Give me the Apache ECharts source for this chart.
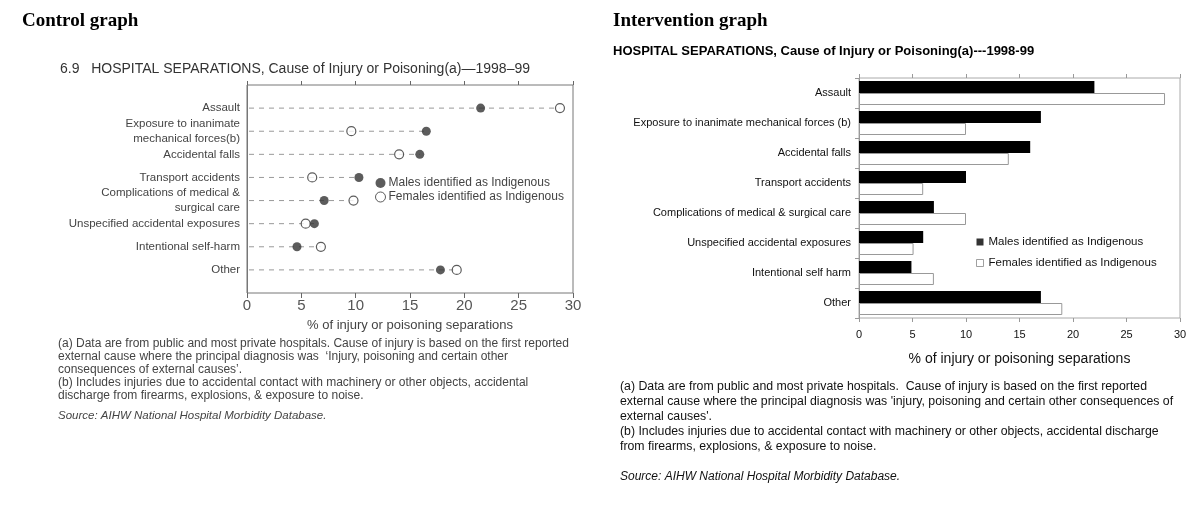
<!DOCTYPE html>
<html>
<head>
<meta charset="utf-8">
<script src="https://cdn.jsdelivr.net/npm/echarts@6/dist/echarts.min.js"></script>
<style>
  html, body { margin: 0; padding: 0; background: #fff; }
  #main { width: 1200px; height: 509px; }
</style>
</head>
<body>
<div id="main"></div>
<script>
// categories, top to bottom
var causesControl = ['Assault', 'Exposure to inanimate\nmechanical forces(b)', 'Accidental falls', 'Transport accidents',
  'Complications of medical &\nsurgical care', 'Unspecified accidental exposures', 'Intentional self-harm', 'Other'];
var causesInterv = ['Assault', 'Exposure to inanimate mechanical forces (b)', 'Accidental falls', 'Transport accidents',
  'Complications of medical & surgical care', 'Unspecified accidental exposures', 'Intentional self harm', 'Other'];

// control graph (dot chart) values, %
var malesControl = [21.5, 16.5, 15.9, 10.3, 7.1, 6.2, 4.6, 17.8];
var femalesControl = [28.8, 9.6, 14.0, 6.0, 9.8, 5.4, 6.8, 19.3];

// intervention graph (bar chart) values, %
var malesInterv = [22, 17, 16, 10, 7, 6, 4.9, 17];
var femalesInterv = [28.6, 10, 14, 6, 10, 5.1, 7, 19];

var MALES = 'Males identified as Indigenous';
var FEMALES = 'Females identified as Indigenous';

var narrow = '"Liberation Sans Narrow", "Liberation Sans", Arial, sans-serif';
var arial = '"Liberation Sans", Arial, sans-serif';

// padded category list so the dots sit one step in from the frame
var padCats = [''].concat(causesControl, ['']);

var dotMales = malesControl.map(function (v, i) { return [v, causesControl[i]]; });
var dotFemales = femalesControl.map(function (v, i) { return [v, causesControl[i]]; });
var guideLines = malesControl.map(function (v, i) { return [Math.max(v, femalesControl[i]), causesControl[i]]; });

var chart = echarts.init(document.getElementById('main'), null, { renderer: 'canvas' });

var option = {
  animation: false,
  backgroundColor: '#fff',
  title: [
    { text: 'Control graph', left: 22, top: 12, padding: 0,
      textStyle: { fontFamily: '"Liberation Serif", "Times New Roman", serif', fontWeight: 'bold', fontSize: 19, color: '#000' } },
    { text: '6.9   HOSPITAL SEPARATIONS, Cause of Injury or Poisoning(a)\u20141998\u201399', left: 60, top: 62, padding: 0,
      textStyle: { fontFamily: narrow, fontWeight: 'normal', fontSize: 14, color: '#333' } },
    { text: 'Intervention graph', left: 613, top: 12, padding: 0,
      textStyle: { fontFamily: '"Liberation Serif", "Times New Roman", serif', fontWeight: 'bold', fontSize: 19, color: '#000' } },
    { text: 'HOSPITAL SEPARATIONS, Cause of Injury or Poisoning(a)---1998-99', left: 613, top: 45, padding: 0,
      textStyle: { fontFamily: arial, fontWeight: 'bold', fontSize: 13, color: '#000' } }
  ],
  legend: [
    {
      left: 375, top: 177, padding: 0, orient: 'vertical', itemGap: 2, itemWidth: 10, itemHeight: 10,
      textStyle: { fontFamily: narrow, fontSize: 12, color: '#444', padding: [0, 0, 0, -2] },
      selectedMode: false,
      data: [
        { name: MALES, icon: 'circle', itemStyle: { color: '#333', borderWidth: 0 } },
        { name: FEMALES, icon: 'circle', itemStyle: { color: '#fff', borderColor: '#333', borderWidth: 1 } }
      ]
    },
    {
      left: 976, top: 236, padding: 0, orient: 'vertical', itemGap: 9, itemWidth: 7, itemHeight: 7,
      textStyle: { fontFamily: arial, fontSize: 11.5, color: '#111' },
      selectedMode: false,
      data: [
        { name: MALES, icon: 'rect', itemStyle: { color: '#000', borderWidth: 0 } },
        { name: FEMALES, icon: 'rect', itemStyle: { color: '#fff', borderColor: '#888', borderWidth: 1 } }
      ]
    }
  ],
  grid: [
    { left: 247, top: 85, width: 326, height: 208, show: true, borderColor: '#777', borderWidth: 1, containLabel: false },
    { left: 859, top: 78, width: 321, height: 240, show: true, borderColor: '#aaa', borderWidth: 1, containLabel: false }
  ],
  xAxis: [
    {
      gridIndex: 0, type: 'value', position: 'bottom', min: 0, max: 30, interval: 5,
      name: '% of injury or poisoning separations', nameLocation: 'middle', nameGap: 26,
      nameTextStyle: { fontFamily: narrow, fontSize: 13, color: '#444' },
      axisLine: { lineStyle: { color: '#666', width: 1 } },
      axisTick: { show: true, length: 5, lineStyle: { color: '#666' } },
      axisLabel: { fontFamily: narrow, fontSize: 15, color: '#555', margin: 5 },
      splitLine: { show: false }
    },
    {
      gridIndex: 0, type: 'value', position: 'top', min: 0, max: 30, interval: 5,
      axisLine: { lineStyle: { color: '#666' } },
      axisTick: { show: true, length: 4, lineStyle: { color: '#666' } },
      axisLabel: { show: false }, splitLine: { show: false }
    },
    {
      gridIndex: 1, type: 'value', position: 'bottom', min: 0, max: 30, interval: 5,
      name: '% of injury or poisoning separations', nameLocation: 'middle', nameGap: 34,
      nameTextStyle: { fontFamily: arial, fontSize: 14, color: '#111' },
      axisLine: { lineStyle: { color: '#999', width: 1 } },
      axisTick: { show: true, length: 4, lineStyle: { color: '#999' } },
      axisLabel: { fontFamily: arial, fontSize: 11, color: '#111', margin: 11 },
      splitLine: { show: false }
    },
    {
      gridIndex: 1, type: 'value', position: 'top', min: 0, max: 30, interval: 5,
      axisLine: { lineStyle: { color: '#aaa' } },
      axisTick: { show: true, length: 4, lineStyle: { color: '#999' } },
      axisLabel: { show: false }, splitLine: { show: false }
    }
  ],
  yAxis: [
    {
      gridIndex: 0, type: 'category', data: padCats, inverse: true, boundaryGap: false,
      axisLine: { lineStyle: { color: '#777' } },
      axisTick: { show: false },
      axisLabel: { fontFamily: narrow, fontSize: 11.5, color: '#444', margin: 7, lineHeight: 15, align: 'right' }
    },
    {
      gridIndex: 1, type: 'category', data: causesInterv, inverse: true,
      axisLine: { lineStyle: { color: '#999' } },
      axisTick: { show: true, length: 4, lineStyle: { color: '#999' } },
      axisLabel: { fontFamily: arial, fontSize: 11, color: '#111', margin: 8 }
    }
  ],
  series: [
    {
      type: 'custom', name: 'guide', xAxisIndex: 0, yAxisIndex: 0, silent: true, z: 1,
      data: guideLines,
      encode: { x: 0, y: 1 },
      renderItem: function (params, api) {
        var y = api.value(1);
        var a = api.coord([0, y]);
        var b = api.coord([api.value(0), y]);
        return {
          type: 'line',
          shape: { x1: a[0] + 2, y1: a[1], x2: b[0], y2: b[1] },
          style: { stroke: '#999', lineWidth: 1, lineDash: [5, 5] }
        };
      }
    },
    {
      type: 'scatter', name: MALES, xAxisIndex: 0, yAxisIndex: 0, z: 3,
      symbol: 'circle', symbolSize: 9,
      itemStyle: { color: '#333' },
      data: dotMales
    },
    {
      type: 'scatter', name: FEMALES, xAxisIndex: 0, yAxisIndex: 0, z: 3,
      symbol: 'circle', symbolSize: 9,
      itemStyle: { color: '#fff', borderColor: '#333', borderWidth: 1.2 },
      data: dotFemales
    },
    {
      type: 'bar', name: MALES, xAxisIndex: 2, yAxisIndex: 1,
      barWidth: 12, barGap: '0%',
      itemStyle: { color: '#000' },
      data: malesInterv
    },
    {
      type: 'bar', name: FEMALES, xAxisIndex: 2, yAxisIndex: 1,
      barWidth: 12, barGap: '0%',
      itemStyle: { color: '#fff', borderColor: '#999', borderWidth: 1 },
      data: femalesInterv
    }
  ],
  graphic: [
    {
      type: 'text', left: 58, top: 337,
      style: {
        text: '(a) Data are from public and most private hospitals. Cause of injury is based on the first reported\n' +
          'external cause where the principal diagnosis was  \u2018Injury, poisoning and certain other\n' +
          'consequences of external causes\u2019.\n' +
          '(b) Includes injuries due to accidental contact with machinery or other objects, accidental\n' +
          'discharge from firearms, explosions, & exposure to noise.',
        font: '12px ' + arial, fill: '#444', lineHeight: 13
      }
    },
    {
      type: 'text', left: 58, top: 410,
      style: { text: 'Source: AIHW National Hospital Morbidity Database.', font: 'italic 11.5px ' + arial, fill: '#444' }
    },
    {
      type: 'text', left: 620, top: 379,
      style: {
        text: '(a) Data are from public and most private hospitals.  Cause of injury is based on the first reported\n' +
          'external cause where the principal diagnosis was \'injury, poisoning and certain other consequences of\n' +
          'external causes\'.\n' +
          '(b) Includes injuries due to accidental contact with machinery or other objects, accidental discharge\n' +
          'from firearms, explosions, & exposure to noise.',
        font: '12.3px ' + arial, fill: '#111', lineHeight: 15
      }
    },
    {
      type: 'text', left: 620, top: 471,
      style: { text: 'Source: AIHW National Hospital Morbidity Database.', font: 'italic 12px ' + arial, fill: '#111' }
    }
  ]
};

chart.setOption(option);
</script>
</body>
</html>
